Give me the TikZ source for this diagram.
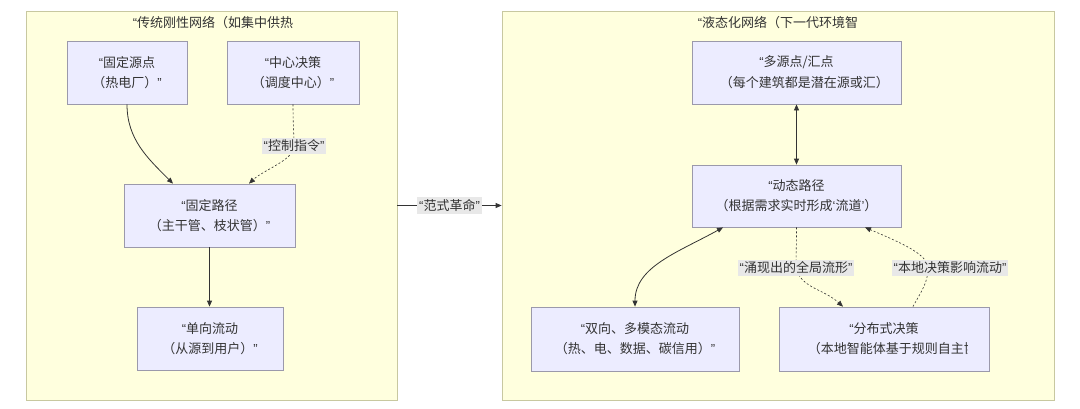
\documentclass[tikz,border=0pt]{standalone}
\usepackage{fontspec}
\setmainfont{Noto Sans CJK SC}
\newfontfamily\qfont{Liberation Sans}
\newcommand\oq{{\qfont “}}
\newcommand\cq{{\qfont ”}}
\newcommand\osq{{\qfont ‘}}
\newcommand\csq{{\qfont ’}}
\usetikzlibrary{arrows.meta}
\definecolor{clfill}{HTML}{FFFFDE}
\definecolor{cldraw}{HTML}{C8C8A0}
\definecolor{ndfill}{HTML}{ECECFF}
\definecolor{nddraw}{HTML}{9B99AB}
\definecolor{ink}{HTML}{333333}
\definecolor{lblbg}{HTML}{E8E8E8}
\begin{document}
\begin{tikzpicture}[x=1pt,y=-1pt,
  font=\fontsize{13}{20}\selectfont,
  cluster/.style={draw=cldraw,fill=clfill,line width=0.8pt,inner sep=0pt},
  box/.style={draw=nddraw,fill=ndfill,line width=0.8pt,inner sep=0pt,align=center,text=ink},
  txt/.style={inner sep=0pt,text=ink},
  ttl/.style={inner sep=0pt,text=ink},
  lbl/.style={fill=lblbg,text=ink,inner xsep=2pt,inner ysep=2pt},
  conn/.style={draw=ink,line width=0.8pt,-{Triangle[length=6pt,width=5pt]}},
  conn2/.style={draw=ink,line width=0.8pt,{Triangle[length=6pt,width=5pt]}-{Triangle[length=6pt,width=5pt]}},
  dconn/.style={conn,line width=0.6pt,dash pattern=on 2pt off 2pt}
]
\useasboundingbox (0,0) rectangle (1080,408);
\fill[white] (0,0) rectangle (1080,408);

% clusters
\node[cluster,minimum width=371pt,minimum height=389pt] (L) at (211.5,205.5) {};
\node[cluster,minimum width=552pt,minimum height=389pt] (R) at (778,205.5) {};
\node[ttl] (Lt) at (213,23) {\oq 传统刚性网络（如集中供热};
\node[ttl] (Rt) at (778,23) {\oq 液态化网络（下一代环境智};

% left nodes
\node[box,minimum width=120pt,minimum height=63pt] (a1) at (127,72.5) {\oq 固定源点\\（热电厂）\cq};
\node[box,minimum width=132pt,minimum height=63pt] (a2) at (293,72.5) {\oq 中心决策\\（调度中心）\cq};
\node[box,minimum width=171pt,minimum height=63pt] (a3) at (209.5,215.5) {\oq 固定路径\\（主干管、枝状管）\cq};
\node[box,minimum width=146pt,minimum height=63pt] (a4) at (210,338.5) {\oq 单向流动\\（从源到用户）\cq};

% right nodes
\node[box,minimum width=209pt,minimum height=63pt] (b1) at (796.5,72.5) {};
\begin{scope}
  \clip (b1.north west) rectangle ([xshift=-21pt]b1.south east);
  \node[txt] (b1a) at ([yshift=10pt]b1.center) {\oq 多源点/汇点};
  \node[txt,anchor=west] (b1b) at ([xshift=28pt,yshift=-10pt]b1.west) {（每个建筑都是潜在源或汇）\cq};
\end{scope}
\node[box,minimum width=209pt,minimum height=62pt] (b2) at (796.5,196) {\oq 动态路径\\（根据需求实时形成\osq 流道\csq）};
\node[box,minimum width=208pt,minimum height=64pt] (b3) at (635,339) {\oq 双向、多模态流动\\（热、电、数据、碳信用）\cq};
\node[box,minimum width=210pt,minimum height=64pt] (b4) at (884,339) {};
\begin{scope}
  \clip (b4.north west) rectangle ([xshift=-22pt]b4.south east);
  \node[txt] (b4a) at ([yshift=10pt]b4.center) {\oq 分布式决策};
  \node[txt,anchor=west] (b4b) at ([xshift=29pt,yshift=-10pt]b4.west) {（本地智能体基于规则自主协调）\cq};
\end{scope}

% left edges
\draw[conn] (a1.south) .. controls +(0,35) and +(-25,-25) .. ([xshift=-36.5pt]a3.north);
\coordinate (l1c) at (294,146);
\draw[dconn] (a2.south) .. controls +(0,20) and +(0,-12) .. (l1c) .. controls +(0,14) and +(15,-14) .. ([xshift=39.5pt]a3.north);
\node[lbl] (l1) at (l1c) {\oq 控制指令\cq};
\draw[conn] (a3.south) -- (a3.south |- a4.north);

% cross edge
\draw[conn] (L.east) -- (R.west) node[lbl,midway] (l0) {\oq 范式革命\cq};

% right edges
\draw[conn2] (b1.south) -- (b2.north);
\draw[conn2] ([xshift=-73.5pt]b2.south) .. controls +(-45,25) and +(0,-40) .. (b3.north);
\coordinate (l2c) at (796,268);
\draw[dconn] (b2.south) .. controls +(0,20) and +(0,-15) .. (l2c) .. controls +(5,20) and +(-20,-18) .. ([xshift=-41pt]b4.north);
\node[lbl] (l2) at (l2c) {\oq 涌现出的全局流形\cq};
\coordinate (l3p) at (928,268);
\draw[dconn] ([xshift=29pt]b4.north) .. controls +(8,-15) and +(0,15) .. (l3p) .. controls +(0,-14) and +(35,15) .. ([xshift=68.5pt]b2.south);
\node[lbl] (l3) at (950,268) {\oq 本地决策影响流动\cq};
\end{tikzpicture}
\end{document}
